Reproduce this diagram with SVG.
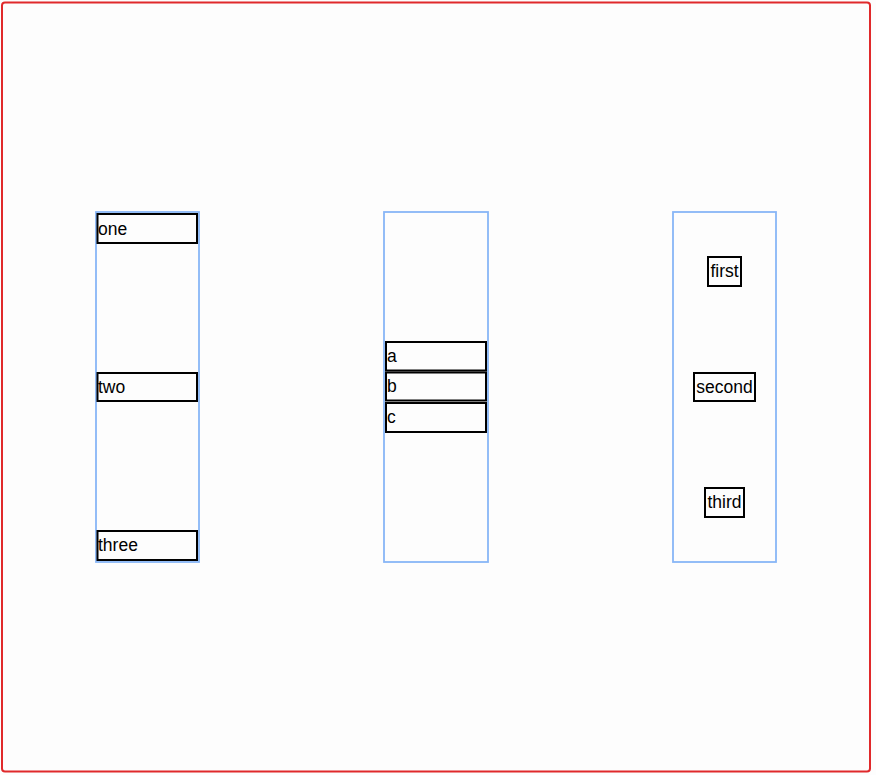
<svg xmlns="http://www.w3.org/2000/svg" width="876" height="775" viewBox="0 0 876 775">
<style>
.frame{fill:#fdfdfd;stroke:#e0292b;stroke-width:2}
.col{fill:none;stroke:#88b6f7;stroke-width:1.8}
.item{fill:#fdfdfd;stroke:#000;stroke-width:2}
text{font-family:"Liberation Sans",Arial,sans-serif;font-size:17.5px;fill:#000}
.c{text-anchor:middle}
</style>
<rect width="876" height="775" fill="#fdfdfd"/>
<rect class="frame" x="2" y="2.5" width="868" height="769" rx="3"/>
<g id="col1">
<rect class="col" x="96" y="212" width="103" height="350"/>
<g id="one"><rect class="item" x="97.5" y="214" width="99.5" height="29"/><text x="98" y="234.5">one</text></g>
<g id="two"><rect class="item" x="97.5" y="373" width="99.5" height="28"/><text x="98" y="393">two</text></g>
<g id="three"><rect class="item" x="97.5" y="531" width="99.5" height="29"/><text x="98" y="551">three</text></g>
</g>
<g id="col2">
<rect class="col" x="384" y="212" width="104" height="350"/>
<g id="a"><rect class="item" x="386" y="342" width="100" height="28.5"/><text x="387" y="362">a</text></g>
<g id="b"><rect class="item" x="386" y="372.5" width="100" height="28"/><text x="387" y="392">b</text></g>
<g id="c"><rect class="item" x="386" y="403" width="100" height="29"/><text x="387" y="423">c</text></g>
</g>
<g id="col3">
<rect class="col" x="673" y="212" width="103" height="350"/>
<g id="first"><rect class="item" x="708" y="257" width="33" height="29"/><text class="c" x="724.5" y="277">first</text></g>
<g id="second"><rect class="item" x="694" y="373" width="61" height="28"/><text class="c" x="724.5" y="393">second</text></g>
<g id="third"><rect class="item" x="705" y="488" width="39" height="29"/><text class="c" x="724.5" y="508">third</text></g>
</g>
<g id="connectors"></g>
</svg>
